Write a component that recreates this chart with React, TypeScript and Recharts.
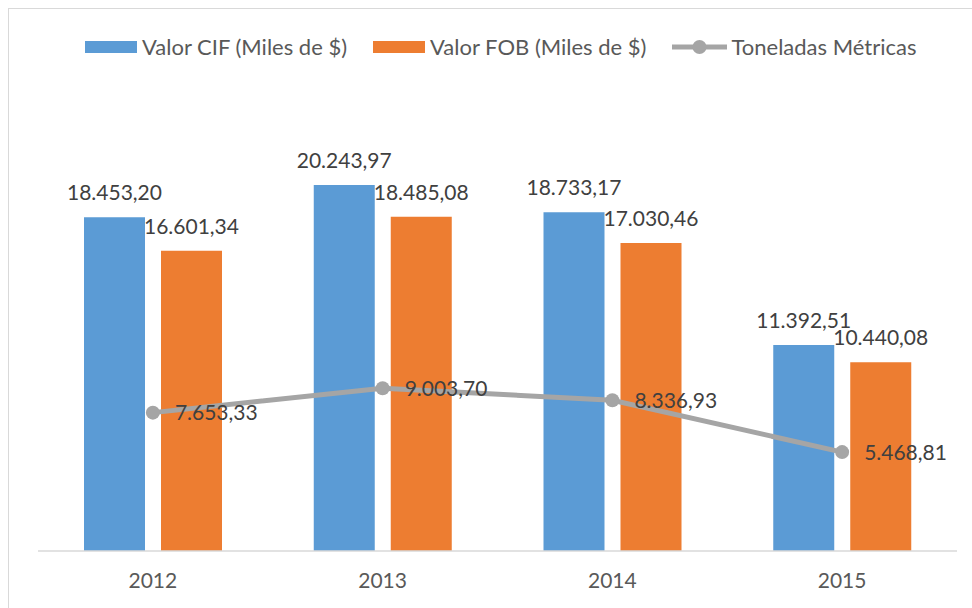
import React from 'react';
import { ComposedChart, Bar, Line, XAxis, YAxis, Legend, LabelList } from 'recharts';

const years = ['2012', '2013', '2014', '2015'];
const valorCIF = [18453.2, 20243.97, 18733.17, 11392.51];
const valorFOB = [16601.34, 18485.08, 17030.46, 10440.08];
const toneladas = [7653.33, 9003.7, 8336.93, 5468.81];

const data = years.map((year, i) => ({
  year,
  cif: valorCIF[i],
  fob: valorFOB[i],
  tm: toneladas[i],
}));

const FONT = 'Lato, "Open Sans", sans-serif';
const BLUE = '#5B9BD5';
const ORANGE = '#ED7D31';
const GRAY = '#A5A5A5';

// formato español: 18.453,20
const fmt = (v: any) => {
  const [ent, dec] = Number(v).toFixed(2).split('.');
  return ent.replace(/\B(?=(\d{3})+(?!\d))/g, '.') + ',' + dec;
};

const renderLegend = () => {
  const items = [
    { label: 'Valor CIF (Miles de $)', color: BLUE, type: 'rect' },
    { label: 'Valor FOB (Miles de $)', color: ORANGE, type: 'rect' },
    { label: 'Toneladas Métricas', color: GRAY, type: 'line' },
  ];
  return (
    <div style={{ display: 'flex', alignItems: 'center', fontFamily: FONT, fontSize: 22, color: '#595959', whiteSpace: 'nowrap' }}>
      {items.map((it, i) => (
        <div key={it.label} style={{ display: 'flex', alignItems: 'center', marginRight: i < 2 ? 26 : 0 }}>
          {it.type === 'rect' ? (
            <svg width={52} height={12} style={{ marginRight: 5 }}>
              <rect x={0} y={0} width={52} height={12} fill={it.color} />
            </svg>
          ) : (
            <svg width={55} height={16} style={{ marginRight: 4 }}>
              <line x1={0} y1={8} x2={55} y2={8} stroke={it.color} strokeWidth={5} />
              <circle cx={27.5} cy={8} r={7} fill={it.color} />
            </svg>
          )}
          <span>{it.label}</span>
        </div>
      ))}
    </div>
  );
};

export default function App() {
  return (
    <div
      style={{
        position: 'fixed',
        left: 8,
        top: 8,
        width: 990,
        height: 620,
        borderTop: '1px solid #D9D9D9',
        borderLeft: '1px solid #D9D9D9',
        background: '#fff',
      }}
    >
      <ComposedChart
        width={963}
        height={599}
        data={data}
        margin={{ top: 90, right: 15, left: 29, bottom: 27 }}
        barGap={16}
        style={{ fontFamily: FONT }}
      >
        <XAxis
          dataKey="year"
          height={30}
          axisLine={{ stroke: '#D9D9D9', strokeWidth: 1.5 }}
          tickLine={false}
          tickSize={6}
          tickMargin={16}
          tick={{ fill: '#595959', fontSize: 21, fontFamily: FONT }}
        />
        <YAxis hide domain={[0, 25000]} />
        <Legend
          verticalAlign="middle"
          content={renderLegend}
          wrapperStyle={{ top: 24, left: 76, width: 'auto' }}
        />
        <Bar dataKey="cif" name="Valor CIF (Miles de $)" fill={BLUE} barSize={61} isAnimationActive={false}>
          <LabelList dataKey="cif" position="top" offset={17} formatter={fmt} fill="#404040" fontSize={21} fontFamily={FONT} />
        </Bar>
        <Bar dataKey="fob" name="Valor FOB (Miles de $)" fill={ORANGE} barSize={61} isAnimationActive={false}>
          <LabelList dataKey="fob" position="top" offset={17} formatter={fmt} fill="#404040" fontSize={21} fontFamily={FONT} />
        </Bar>
        <Line
          dataKey="tm"
          name="Toneladas Métricas"
          stroke={GRAY}
          strokeWidth={5}
          dot={{ r: 7, fill: GRAY, stroke: GRAY, strokeWidth: 0 }}
          activeDot={false}
          isAnimationActive={false}
        >
          <LabelList dataKey="tm" position="right" offset={22} formatter={fmt} fill="#404040" fontSize={21} fontFamily={FONT} />
        </Line>
      </ComposedChart>
    </div>
  );
}
